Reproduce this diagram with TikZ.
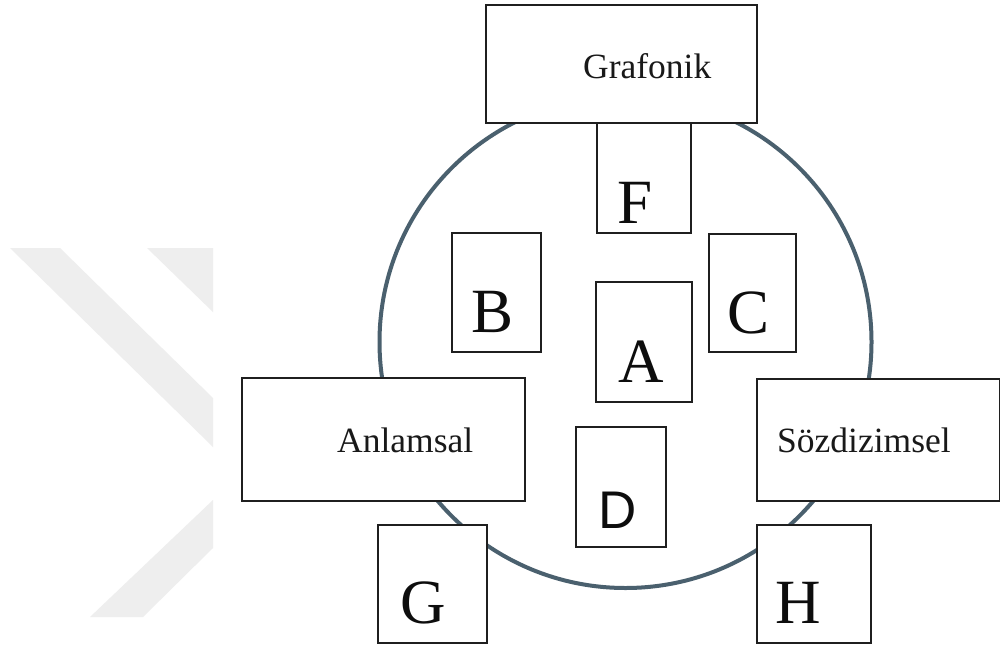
\documentclass[tikz,border=0pt]{standalone}
\usepackage{fontspec}
\setmainfont{Liberation Serif}
\newfontfamily\arialfont{Liberation Sans}
\begin{document}
\begin{tikzpicture}[x=1pt,y=-1pt,
  box/.style={draw=black!88,line width=1.8pt,fill=white,inner sep=0pt},
  word/.style={font=\fontsize{35.5}{36}\selectfont,text=black!90,inner sep=0pt,anchor=base west},
  letter/.style={font=\fontsize{63}{63}\selectfont,text=black!95,inner sep=0pt,anchor=base},
  ring/.style={draw=ringcol,line width=4pt}]
\definecolor{ringcol}{RGB}{74,96,110}
\definecolor{wmark}{RGB}{238,238,238}
\useasboundingbox[fill=white] (0,0) rectangle (1001,645);

% faint chevron in the left margin
\fill[wmark] (10,248) -- (60,248) -- (213,398) -- (213,447) -- cycle;
\fill[wmark] (147,248) -- (213,248) -- (213,312) -- cycle;
\fill[wmark] (213,500) -- (213,548) -- (143,617) -- (90,617) -- cycle;

% the ring behind all boxes
\draw[ring] (625.5,342) circle[radius=246];

% outer boxes
\draw[box] (486,5) rectangle (757,123) node[pos=0.5] (grafbox) {};
\draw[box] (242,378) rectangle (525,501) node[pos=0.5] (anlbox) {};
\draw[box] (757,379) rectangle (999.5,501) node[pos=0.5] (sozbox) {};

% letter boxes
\draw[box] (597,123) rectangle (691,233) node[pos=0.5] (fbox) {};
\draw[box] (452,233) rectangle (541,352) node[pos=0.5] (bbox) {};
\draw[box] (709,234) rectangle (796,352) node[pos=0.5] (cbox) {};
\draw[box] (596,282) rectangle (692,402) node[pos=0.5] (abox) {};
\draw[box] (576,427) rectangle (666,547) node[pos=0.5] (dbox) {};
\draw[box] (378,525) rectangle (487,643) node[pos=0.5] (gbox) {};
\draw[box] (757,525) rectangle (871,643) node[pos=0.5] (hbox) {};

% words
\node[word] (graf) at (583,78) {Grafonik};
\node[word] (anl) at (337,452) {Anlamsal};
\node[word] (soz) at (777,452) {Sözdizimsel};

% letters
\node[letter] (F) at (635,223) {F};
\node[letter] (B) at (493,332) {B};
\node[letter] (C) at (749,333) {C};
\node[letter] (A) at (641,382) {A};
\node[letter,font=\arialfont\fontsize{53}{53}\selectfont] (D) at (618,528) {D};
\node[letter] (G) at (423,623) {G};
\node[letter] (H) at (798,623) {H};
\end{tikzpicture}
\end{document}
